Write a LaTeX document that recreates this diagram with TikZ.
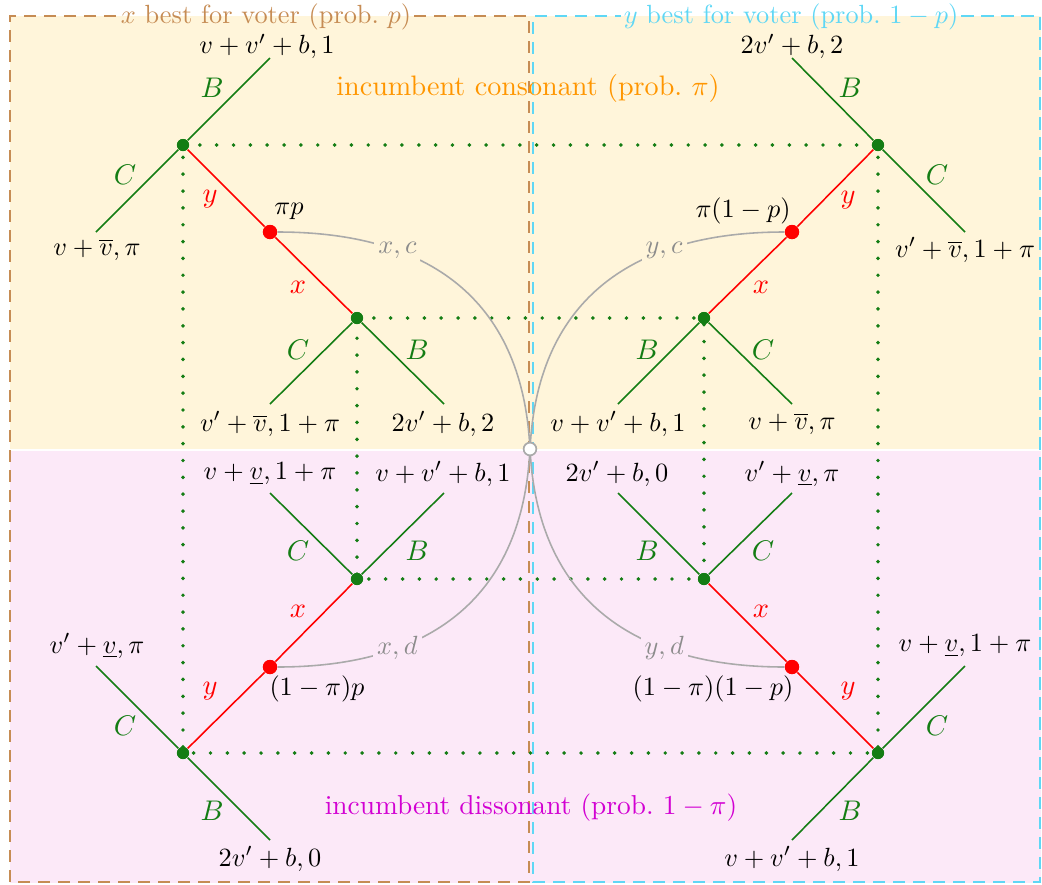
\documentclass[tikz,border=0pt]{standalone}
\definecolor{bgyellow}{RGB}{255,245,218}
\definecolor{bgpink}{RGB}{252,233,248}
\definecolor{boxbrown}{RGB}{198,140,84}
\definecolor{boxcyan}{RGB}{95,215,245}
\definecolor{txtorange}{RGB}{255,150,0}
\definecolor{txtmagenta}{RGB}{210,0,210}
\definecolor{treegreen}{RGB}{20,125,20}
\definecolor{curvegray}{RGB}{170,170,170}
\definecolor{labgray}{RGB}{140,140,140}
\tikzset{
  gdot/.style={circle,fill=treegreen,inner sep=0pt,minimum size=4.6pt},
  rdot/.style={circle,fill=red,inner sep=0pt,minimum size=5.4pt},
  cdot/.style={circle,draw=curvegray,fill=white,line width=0.6pt,inner sep=0pt,minimum size=4.8pt},
  gedge/.style={draw=treegreen,line width=0.6pt},
  redge/.style={draw=red,line width=0.6pt},
  glab/.style={text=treegreen,inner sep=1pt,scale=1.08},
  rlab/.style={text=red,inner sep=1pt,scale=1.08},
  pay/.style={text=black,inner sep=1pt},
  prob/.style={text=black,inner sep=1pt},
  dotline/.style={draw=treegreen,line width=1.5pt,line cap=round,dash pattern=on 0pt off 6.4pt},
  curve/.style={draw=curvegray,line width=0.6pt},
  clab/.style={text=labgray,inner sep=1.5pt},
  boxline/.style={line width=0.8pt,dash pattern=on 4.6pt off 3pt},
}
\begin{document}
\begin{tikzpicture}[x=0.38pt,y=-0.38pt]
\useasboundingbox (0,0) rectangle (1042,885);
% backgrounds
\fill[bgyellow] (10,16) rectangle (1041,448.5);
\fill[bgpink] (10,450.5) rectangle (1041,883);
% titles and boxes
\node[text=boxbrown,inner sep=0pt] (tx) at (266,16.5) {$x$ best for voter (prob.\ $p$)};
\node[text=boxcyan,inner sep=0pt] (ty) at (791,16.5) {$y$ best for voter (prob.\ $1-p$)};
\coordinate (bxl) at (10,16);
\coordinate (bxr) at (529,882);
\coordinate (byl) at (533,16);
\coordinate (byr) at (1040,882);
\draw[boxline,draw=boxbrown] ([xshift=1pt]tx.east |- bxl) -| (bxr) -| (bxl) -- ([xshift=-1pt]tx.west |- bxl);
\draw[boxline,draw=boxcyan] ([xshift=1pt]ty.east |- byl) -| (byr) -| (byl) -- ([xshift=-1pt]ty.west |- byl);
\node[text=txtorange,scale=1.07] (cons) at (528,88) {incumbent consonant (prob.\ $\pi$)};
\node[text=txtmagenta,scale=1.04] (diss) at (531,808) {incumbent dissonant (prob.\ $1-\pi$)};
% tree nodes
\node[gdot] (UL1) at (183,145) {};
\node[rdot] (ULr) at (270,232) {};
\node[gdot] (UL2) at (357,318) {};
\node[gdot] (UR1) at (878,145) {};
\node[rdot] (URr) at (792,232) {};
\node[gdot] (UR2) at (704,318) {};
\node[gdot] (LL1) at (183,753) {};
\node[rdot] (LLr) at (270,667) {};
\node[gdot] (LL2) at (357,579) {};
\node[gdot] (LR1) at (878,753) {};
\node[rdot] (LRr) at (792,667) {};
\node[gdot] (LR2) at (704,579) {};
\node[cdot] (ctr) at (530,449) {};
% dotted information sets
\draw[dotline] (UL1.center) -- (UR1.center) -- (LR1.center) -- (LL1.center) -- cycle;
\draw[dotline] (UL2.center) -- (UR2.center) -- (LR2.center) -- (LL2.center) -- cycle;
% gray curves
\draw[curve] (ULr) .. controls (430,232) and (520,300) .. node[pos=0.3,clab,fill=bgyellow] (lxc) {$x,c$} (ctr);
\draw[curve] (URr) .. controls (632,232) and (540,300) .. node[pos=0.3,clab,fill=bgyellow] (lyc) {$y,c$} (ctr);
\draw[curve] (LLr) .. controls (430,667) and (520,598) .. node[pos=0.3,clab,fill=bgpink] (lxd) {$x,d$} (ctr);
\draw[curve] (LRr) .. controls (632,667) and (540,598) .. node[pos=0.3,clab,fill=bgpink] (lyd) {$y,d$} (ctr);
\node[cdot] at (ctr) {};
% end points
\coordinate (e1) at (270,58);   \coordinate (e2) at (96,232);
\coordinate (e3) at (270,404);  \coordinate (e4) at (444,404);
\coordinate (e5) at (792,58);   \coordinate (e6) at (965,232);
\coordinate (e7) at (618,404);  \coordinate (e8) at (792,404);
\coordinate (e9) at (270,493);  \coordinate (e10) at (444,493);
\coordinate (e11) at (96,666);  \coordinate (e12) at (270,840);
\coordinate (e13) at (618,493); \coordinate (e14) at (792,493);
\coordinate (e15) at (965,666); \coordinate (e16) at (792,840);
% red edges
\draw[redge] (UL1) -- (ULr) -- (UL2);
\draw[redge] (UR1) -- (URr) -- (UR2);
\draw[redge] (LL1) -- (LLr) -- (LL2);
\draw[redge] (LR1) -- (LRr) -- (LR2);
% green edges
\draw[gedge] (UL1) -- (e1); \draw[gedge] (UL1) -- (e2);
\draw[gedge] (UL2) -- (e3); \draw[gedge] (UL2) -- (e4);
\draw[gedge] (UR1) -- (e5); \draw[gedge] (UR1) -- (e6);
\draw[gedge] (UR2) -- (e7); \draw[gedge] (UR2) -- (e8);
\draw[gedge] (LL2) -- (e9); \draw[gedge] (LL2) -- (e10);
\draw[gedge] (LL1) -- (e11); \draw[gedge] (LL1) -- (e12);
\draw[gedge] (LR2) -- (e13); \draw[gedge] (LR2) -- (e14);
\draw[gedge] (LR1) -- (e15); \draw[gedge] (LR1) -- (e16);
% redraw dots on top
\foreach \n in {UL1,UL2,UR1,UR2,LL1,LL2,LR1,LR2} {\node[gdot] at (\n) {};}
\foreach \n in {ULr,URr,LLr,LRr} {\node[rdot] at (\n) {};}
% edge labels
\node[glab] (a1) at (212,88) {$B$};
\node[glab] (a2) at (125,175) {$C$};
\node[rlab] (a3) at (210,199) {$y$};
\node[rlab] (a4) at (298,287) {$x$};
\node[glab] (a5) at (298,350) {$C$};
\node[glab] (a6) at (417,350) {$B$};
\node[glab] (b1) at (850,88) {$B$};
\node[glab] (b2) at (937,175) {$C$};
\node[rlab] (b3) at (848,200) {$y$};
\node[rlab] (b4) at (761,287) {$x$};
\node[glab] (b5) at (647,350) {$B$};
\node[glab] (b6) at (763,350) {$C$};
\node[glab] (c1) at (298,551) {$C$};
\node[glab] (c2) at (417,551) {$B$};
\node[rlab] (c3) at (298,611) {$x$};
\node[rlab] (c4) at (210,691) {$y$};
\node[glab] (c5) at (125,726) {$C$};
\node[glab] (c6) at (212,811) {$B$};
\node[glab] (d1) at (647,551) {$B$};
\node[glab] (d2) at (763,551) {$C$};
\node[rlab] (d3) at (761,611) {$x$};
\node[rlab] (d4) at (848,691) {$y$};
\node[glab] (d5) at (937,726) {$C$};
\node[glab] (d6) at (850,811) {$B$};
% probabilities
\node[prob] (p1) at (289,211) {$\pi p$};
\node[prob] (p2) at (743,211) {$\pi(1-p)$};
\node[prob] (p3) at (317,689) {$(1-\pi)p$};
\node[prob] (p4) at (713,689) {$(1-\pi)(1-p)$};
% payoffs
\node[pay,inner sep=0pt] (t1) at (267,46.5) {$v+v'+b,1$};
\node[pay] (t2) at (97,250) {$v+\overline{v},\pi$};
\node[pay] (t3) at (270,424) {$v'+\overline{v},1+\pi$};
\node[pay] (t4) at (443,424) {$2v'+b,2$};
\node[pay,inner sep=0pt] (t5) at (792,46.5) {$2v'+b,2$};
\node[pay] (t6) at (965,250) {$v'+\overline{v},1+\pi$};
\node[pay] (t7) at (618,424) {$v+v'+b,1$};
\node[pay] (t8) at (792,424) {$v+\overline{v},\pi$};
\node[pay] (t9) at (270,474) {$v+\underline{v},1+\pi$};
\node[pay] (t10) at (443,474) {$v+v'+b,1$};
\node[pay] (t11) at (97,646) {$v'+\underline{v},\pi$};
\node[pay] (t12) at (270,859) {$2v'+b,0$};
\node[pay] (t13) at (617,474) {$2v'+b,0$};
\node[pay] (t14) at (792,474) {$v'+\underline{v},\pi$};
\node[pay] (t15) at (965,646) {$v+\underline{v},1+\pi$};
\node[pay] (t16) at (792,859) {$v+v'+b,1$};
\end{tikzpicture}
\end{document}
